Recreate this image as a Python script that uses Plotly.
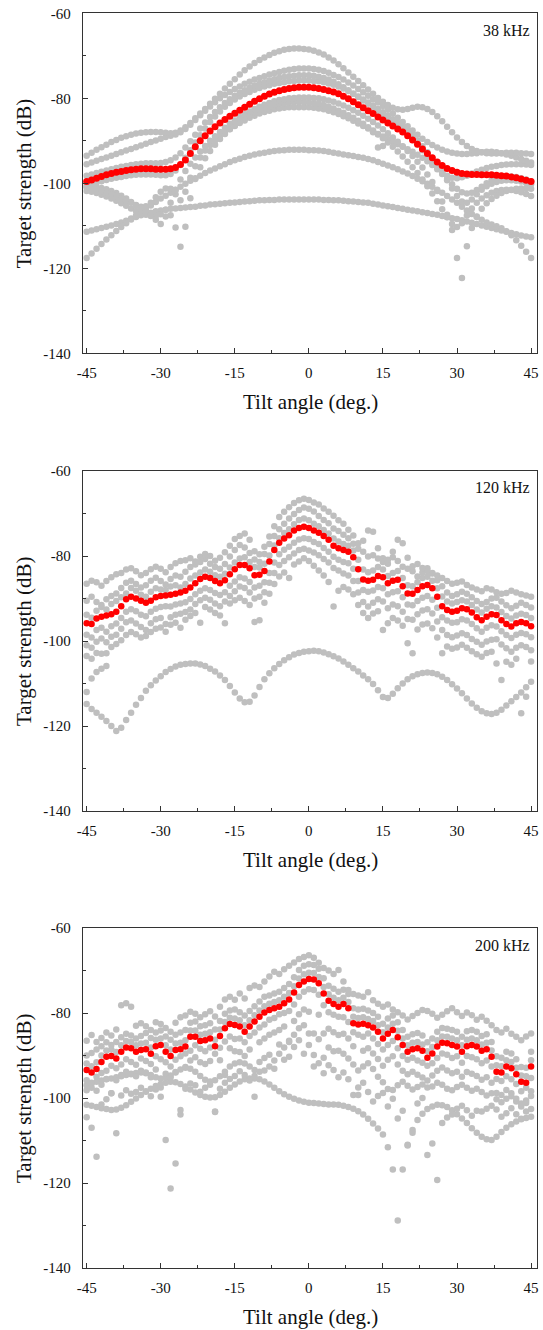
import plotly.graph_objects as go

# ---------------- data ----------------
ANGLES = list(range(-45, 46))  # tilt angle (deg.), 1-degree steps
XTICKS = [-45, -30, -15, 0, 15, 30, 45]
XTICKTEXT = ["-45", "-30", "-15", "0", "15", "30", "45"]
YTICKS = [-140, -120, -100, -80, -60]
YTICKTEXT = ["-140", "-120", "-100", "-80", "-60"]
PANEL_LABELS = ["38 kHz", "120 kHz", "200 kHz"]

# ---- 38 kHz : red = mean curve, gray = individual curves ----
red_38 = [-99.6, -99.2, -98.8, -98.4, -98.0, -97.7, -97.4, -97.2, -97.0, -96.8,
          -96.7, -96.6, -96.6, -96.6, -96.7, -96.7, -96.7, -96.6, -96.3, -95.6,
          -94.5, -93.0, -91.4, -90.0, -88.8, -87.7, -86.7, -85.8, -85.0, -84.2,
          -83.5, -82.8, -82.1, -81.4, -80.7, -80.1, -79.5, -79.0, -78.6, -78.2,
          -77.9, -77.7, -77.5, -77.4, -77.4, -77.4, -77.5, -77.7, -77.9, -78.2,
          -78.5, -78.9, -79.5, -80.1, -80.8, -81.5, -82.2, -82.9, -83.6, -84.4,
          -85.1, -85.8, -86.5, -87.2, -87.9, -88.8, -89.8, -90.8, -91.9, -93.0,
          -94.0, -95.0, -95.8, -96.5, -97.0, -97.4, -97.7, -97.8, -97.9, -97.9,
          -98.0, -98.0, -98.0, -98.1, -98.2, -98.3, -98.5, -98.7, -99.0, -99.3,
          -99.6]
g38_a = [-93.5, -92.8, -92.1, -91.5, -90.9, -90.3, -89.8, -89.3, -88.9, -88.6,
         -88.3, -88.1, -88.0, -87.9, -87.9, -88.0, -88.1, -88.2, -88.1, -87.6,
         -86.8, -85.8, -84.7, -83.6, -82.5, -81.3, -80.1, -78.9, -77.7, -76.6,
         -75.5, -74.4, -73.4, -72.5, -71.7, -71.0, -70.4, -69.8, -69.3, -68.9,
         -68.6, -68.4, -68.3, -68.3, -68.4, -68.5, -68.8, -69.2, -69.7, -70.4,
         -71.1, -72.0, -72.9, -73.9, -74.9, -75.9, -76.9, -77.9, -78.9, -79.9,
         -80.8, -81.6, -82.2, -82.6, -82.7, -82.5, -82.2, -82.0, -82.1, -82.5,
         -83.2, -84.2, -85.4, -86.7, -88.0, -89.2, -90.3, -91.2, -91.9, -92.4,
         -92.7, -92.9, -93.0, -93.0, -92.9, -92.8, -92.8, -92.8, -92.9, -93.0,
         -93.1]
g38_b = [-95.5, -95.1, -94.7, -94.3, -93.9, -93.5, -93.1, -92.7, -92.3, -91.9,
         -91.5, -91.1, -90.7, -90.3, -89.9, -89.5, -89.1, -88.8, -88.5, -88.0,
         -87.2, -86.2, -85.1, -84.0, -82.9, -81.9, -80.9, -80.0, -79.2, -78.5,
         -77.8, -77.2, -76.6, -76.1, -75.6, -75.2, -74.8, -74.4, -74.1, -73.8,
         -73.5, -73.3, -73.1, -73.0, -73.0, -73.0, -73.1, -73.3, -73.6, -74.0,
         -74.5, -75.0, -75.6, -76.3, -77.0, -77.8, -78.6, -79.4, -80.2, -81.0,
         -81.8, -82.7, -83.6, -84.6, -85.6, -86.6, -87.6, -88.6, -89.5, -90.3,
         -91.0, -91.6, -92.1, -92.5, -92.8, -93.0, -93.1, -93.1, -93.0, -92.9,
         -92.7, -92.6, -92.6, -92.7, -92.9, -93.2, -93.5, -93.9, -94.3, -94.7,
         -95.1]
g38_c = [-98.2, -97.9, -97.6, -97.3, -97.0, -96.7, -96.4, -96.1, -95.9, -95.7,
         -95.5, -95.4, -95.3, -95.3, -95.3, -95.2, -95.0, -94.6, -93.9, -92.9,
         -91.6, -90.1, -88.6, -87.1, -85.7, -84.4, -83.2, -82.1, -81.1, -80.2,
         -79.4, -78.7, -78.1, -77.5, -77.0, -76.6, -76.2, -75.8, -75.5, -75.2,
         -75.0, -74.8, -74.7, -74.6, -74.6, -74.6, -74.7, -74.9, -75.2, -75.6,
         -76.1, -76.7, -77.4, -78.1, -78.9, -79.7, -80.5, -81.3, -82.1, -82.9,
         -83.7, -84.5, -85.3, -86.2, -87.2, -88.3, -89.5, -90.8, -92.2, -93.6,
         -95.0, -96.3, -97.4, -98.2, -98.7, -98.8, -98.6, -98.2, -97.7, -97.2,
         -96.8, -96.4, -96.1, -95.9, -95.7, -95.6, -95.5, -95.5, -95.5, -95.6,
         -95.7]
g38_d = [-100.4, -100.1, -99.8, -99.5, -99.2, -98.9, -98.7, -98.5, -98.3, -98.1,
         -98.0, -97.9, -97.9, -97.9, -98.0, -98.1, -98.1, -97.8, -97.0, -95.7,
         -94.0, -92.2, -90.4, -88.7, -87.1, -85.6, -84.3, -83.1, -82.0, -81.1,
         -80.3, -79.6, -79.0, -78.5, -78.0, -77.6, -77.2, -76.9, -76.6, -76.4,
         -76.2, -76.0, -75.9, -75.8, -75.8, -75.8, -75.9, -76.0, -76.2, -76.5,
         -76.8, -77.2, -77.7, -78.3, -78.9, -79.6, -80.3, -81.0, -81.7, -82.5,
         -83.3, -84.1, -84.9, -85.8, -86.7, -87.7, -88.8, -90.0, -91.3, -92.7,
         -94.2, -95.8, -97.5, -99.3, -101.2, -103.0, -104.3, -104.6, -103.8, -102.6,
         -101.5, -100.7, -100.1, -99.7, -99.4, -99.3, -99.3, -99.4, -99.6, -99.9,
         -100.2]
g38_e = [-101.0, -101.2, -101.5, -101.8, -102.2, -102.6, -103.0, -103.5, -104.0, -104.6,
         -105.2, -105.9, -106.7, -107.6, -108.6, -109.6, -107.8, -104.6, -101.6, -99.1,
         -97.1, -95.4, -93.9, -92.5, -91.2, -90.0, -88.9, -87.9, -86.9, -86.0,
         -85.2, -84.4, -83.7, -83.1, -82.5, -82.0, -81.5, -81.1, -80.7, -80.4,
         -80.2, -80.0, -79.9, -79.8, -79.8, -79.8, -79.9, -80.0, -80.2, -80.5,
         -80.8, -81.2, -81.7, -82.2, -82.8, -83.4, -84.1, -84.8, -85.6, -86.4,
         -87.3, -88.2, -89.2, -90.2, -91.3, -92.4, -93.6, -94.9, -96.3, -97.9,
         -99.7, -101.8, -104.3, -107.4, -111.0, -117.6, -122.3, -114.8, -110.5, -107.8,
         -106.0, -104.7, -103.7, -102.9, -102.3, -101.8, -101.5, -101.3, -101.2, -101.2,
         -101.3]
g38_f = [-101.8, -102.0, -102.3, -102.7, -103.1, -103.6, -104.1, -104.7, -105.3, -105.9,
         -106.5, -107.0, -107.4, -107.7, -107.7, -107.3, -106.2, -107.5, -110.4, -114.9,
         -110.2, -103.5, -99.0, -96.2, -94.1, -92.4, -90.9, -89.6, -88.4, -87.3,
         -86.3, -85.4, -84.6, -83.9, -83.3, -82.7, -82.2, -81.8, -81.5, -81.3,
         -81.1, -81.0, -80.9, -80.9, -80.9, -81.0, -81.1, -81.3, -81.6, -82.0,
         -82.4, -82.9, -83.4, -84.0, -84.6, -85.3, -86.0, -86.8, -87.6, -88.5,
         -89.4, -90.4, -91.4, -92.5, -93.7, -94.9, -96.2, -97.6, -99.1, -100.7,
         -102.4, -104.2, -106.1, -108.0, -109.6, -110.3, -109.4, -107.6, -105.9, -104.6,
         -103.6, -102.8, -102.2, -101.8, -101.6, -101.5, -101.6, -101.8, -102.1, -102.5,
         -103.0]
g38_g = [-100.8, -100.8, -100.9, -101.1, -101.4, -101.8, -102.3, -102.9, -103.6, -104.4,
         -105.1, -105.5, -105.4, -104.6, -103.3, -102.0, -101.2, -101.3, -102.6, -104.0,
         -102.0, -98.7, -96.0, -93.9, -92.3, -91.0, -89.9, -88.9, -88.0, -87.2,
         -86.5, -85.8, -85.2, -84.6, -84.1, -83.6, -83.2, -82.9, -82.6, -82.4,
         -82.2, -82.1, -82.1, -82.1, -82.1, -82.1, -82.2, -82.4, -82.6, -82.9,
         -83.3, -83.7, -84.2, -84.7, -85.3, -85.9, -86.5, -87.1, -87.8, -88.4,
         -89.0, -89.6, -90.2, -90.8, -91.4, -92.0, -92.6, -93.3, -94.0, -94.8,
         -95.7, -96.7, -97.8, -99.0, -100.2, -101.3, -102.1, -102.4, -102.2, -101.6,
         -100.8, -100.0, -99.3, -98.8, -98.5, -98.4, -98.4, -98.5, -98.8, -99.1,
         -99.5]
g38_h = [-117.6, -116.5, -115.4, -114.3, -113.2, -112.2, -111.2, -110.3, -109.4, -108.5,
         -107.6, -106.8, -106.0, -105.2, -104.4, -103.6, -102.9, -102.2, -101.5, -100.8,
         -100.1, -99.4, -98.8, -98.2, -97.6, -97.0, -96.5, -96.0, -95.5, -95.0,
         -94.6, -94.2, -93.8, -93.5, -93.2, -93.0, -92.8, -92.6, -92.4, -92.3,
         -92.2, -92.1, -92.1, -92.1, -92.1, -92.2, -92.2, -92.3, -92.4, -92.6,
         -92.8, -93.0, -93.2, -93.4, -93.6, -93.8, -94.0, -94.3, -94.6, -95.0,
         -95.4, -95.8, -96.2, -96.7, -97.2, -97.7, -98.3, -98.9, -99.5, -100.1,
         -100.8, -101.5, -102.2, -103.0, -103.8, -104.6, -105.5, -106.4, -107.2, -107.9,
         -108.6, -109.2, -109.7, -110.1, -110.6, -111.3, -112.2, -113.4, -114.7, -116.1,
         -117.6]
g38_i = [-111.4, -111.1, -110.8, -110.5, -110.2, -109.9, -109.6, -109.2, -108.8, -108.3,
         -107.9, -107.5, -107.2, -106.9, -106.6, -106.4, -106.2, -106.0, -105.9, -105.8,
         -105.7, -105.6, -105.5, -105.3, -105.2, -105.0, -104.9, -104.8, -104.7, -104.6,
         -104.5, -104.4, -104.3, -104.2, -104.1, -104.0, -104.0, -103.9, -103.9, -103.8,
         -103.8, -103.8, -103.8, -103.8, -103.8, -103.8, -103.8, -103.8, -103.9, -103.9,
         -104.0, -104.0, -104.1, -104.2, -104.3, -104.4, -104.5, -104.6, -104.8, -105.0,
         -105.2, -105.4, -105.6, -105.8, -106.0, -106.2, -106.4, -106.6, -106.8, -107.0,
         -107.2, -107.4, -107.7, -107.9, -108.2, -108.4, -108.7, -109.0, -109.3, -109.6,
         -109.9, -110.2, -110.5, -110.8, -111.1, -111.4, -111.7, -112.0, -112.3, -112.5,
         -112.7]
extra38_x = [13, 14, 15]
extra38_y = [-88.0, -91.6, -91.2]

# ---- 120 kHz ----
red_120 = [-95.8, -96.0, -94.7, -94.3, -94.0, -93.7, -93.1, -91.8, -90.2, -89.6,
           -90.0, -90.5, -91.0, -90.5, -89.7, -89.4, -89.3, -89.1, -88.9, -88.6,
           -88.2, -87.4, -86.4, -85.4, -84.9, -85.2, -85.9, -86.4, -85.7, -84.3,
           -83.1, -82.1, -82.1, -82.9, -84.5, -84.4, -83.5, -81.3, -78.6, -76.9,
           -75.9, -75.1, -74.0, -73.4, -73.1, -73.4, -74.0, -74.5, -75.3, -76.2,
           -77.6, -78.2, -78.6, -79.0, -80.3, -83.1, -85.5, -85.8, -85.6, -84.7,
           -85.0, -86.4, -85.8, -85.6, -87.1, -88.8, -88.9, -88.0, -87.1, -86.8,
           -87.6, -89.6, -91.8, -92.7, -93.1, -92.9, -92.3, -92.5, -93.3, -94.4,
           -95.1, -94.3, -93.7, -93.9, -95.1, -96.0, -96.6, -95.8, -95.5, -95.8,
           -96.5]
g120_a = [-86.5, -85.8, -86.2, -87.0, -85.9, -85.0, -84.3, -84.0, -83.2, -82.9,
          -83.6, -84.5, -84.0, -83.1, -82.5, -83.0, -83.8, -82.6, -81.7, -81.2,
          -81.0, -80.5, -81.3, -80.2, -79.5, -80.0, -81.1, -80.4, -79.1, -77.6,
          -76.0, -75.3, -74.7, -76.2, -78.9, -79.6, -77.8, -75.4, -73.0, -70.8,
          -69.6, -68.5, -67.5, -66.9, -66.5, -66.8, -67.4, -67.9, -68.8, -69.6,
          -70.5, -71.6, -72.4, -73.8, -75.2, -77.0, -79.0, -80.1, -79.8, -80.6,
          -81.4, -80.9, -80.3, -81.2, -82.5, -83.0, -82.4, -81.9, -82.8, -83.5,
          -84.1, -84.6, -85.2, -85.9, -86.5, -86.3, -86.0, -86.8, -87.4, -87.9,
          -88.3, -87.6, -87.9, -88.5, -88.9, -88.7, -88.2, -88.6, -89.0, -89.3,
          -89.6]
g120_b = [-90.5, -89.6, -90.8, -91.5, -90.2, -89.4, -88.8, -87.5, -86.3, -85.8,
          -86.6, -87.4, -86.9, -85.8, -85.1, -85.9, -86.7, -85.4, -84.6, -84.9,
          -83.7, -82.6, -82.0, -81.4, -80.7, -81.8, -82.6, -83.0, -81.9, -80.1,
          -78.6, -77.4, -78.0, -79.3, -80.8, -81.4, -79.5, -77.2, -75.3, -73.7,
          -72.4, -71.2, -70.1, -69.2, -68.6, -68.9, -69.5, -70.6, -71.5, -72.3,
          -73.5, -74.1, -75.0, -75.8, -77.1, -78.3, -76.4, -74.0, -74.3, -78.2,
          -80.5, -81.8, -79.0, -76.2, -77.0, -80.4, -83.6, -84.8, -83.9, -82.9,
          -84.0, -85.7, -87.1, -88.6, -89.4, -89.0, -88.4, -88.9, -89.7, -90.6,
          -91.3, -90.8, -90.0, -89.8, -90.7, -91.6, -92.3, -91.7, -91.0, -91.5,
          -92.1]
g120_c = [-93.8, -94.5, -92.9, -92.0, -92.6, -91.3, -90.6, -89.7, -88.8, -87.5,
          -88.2, -89.1, -89.6, -88.4, -87.6, -87.9, -88.0, -87.2, -86.9, -87.4,
          -86.6, -85.3, -84.6, -83.9, -83.2, -83.7, -84.5, -84.9, -84.2, -82.7,
          -81.5, -80.6, -80.3, -81.4, -82.6, -82.7, -81.8, -79.9, -77.5, -75.8,
          -74.6, -73.7, -72.5, -71.5, -71.2, -71.6, -72.4, -73.0, -73.9, -74.7,
          -75.9, -76.6, -77.2, -77.6, -78.7, -80.9, -83.2, -83.8, -83.4, -82.6,
          -83.2, -84.7, -84.0, -83.5, -85.2, -86.9, -87.1, -86.2, -85.2, -84.9,
          -85.8, -87.6, -89.5, -90.7, -91.2, -90.8, -90.4, -90.7, -91.5, -92.6,
          -93.3, -92.4, -91.8, -92.1, -93.2, -94.1, -94.7, -94.0, -93.6, -93.9,
          -94.6]
g120_d = [-98.5, -99.2, -97.4, -96.9, -97.8, -96.5, -95.9, -94.6, -93.1, -92.5,
          -93.0, -93.8, -94.2, -93.1, -92.4, -92.0, -91.8, -91.9, -91.4, -91.2,
          -90.9, -90.1, -89.0, -88.2, -87.6, -88.0, -88.7, -89.2, -88.5, -87.0,
          -86.0, -85.0, -85.3, -86.1, -87.4, -87.0, -86.2, -84.0, -81.5, -79.6,
          -78.5, -77.8, -76.9, -76.1, -75.8, -76.0, -76.7, -77.2, -78.1, -79.0,
          -80.2, -80.9, -81.4, -81.7, -83.0, -85.9, -88.0, -88.4, -88.1, -87.3,
          -87.6, -89.0, -88.5, -88.3, -89.7, -91.4, -91.6, -90.6, -89.8, -89.4,
          -90.3, -92.2, -94.4, -95.2, -95.7, -95.6, -94.9, -95.2, -96.0, -97.0,
          -97.8, -96.9, -96.3, -96.6, -97.7, -98.6, -99.3, -98.5, -98.1, -98.4,
          -99.1]
g120_e = [-101.0, -101.6, -100.2, -99.4, -100.3, -99.0, -98.5, -97.1, -95.6, -95.2,
          -95.9, -96.7, -97.4, -95.8, -94.9, -94.6, -96.0, -94.4, -93.8, -93.6,
          -93.2, -92.6, -91.3, -90.4, -89.8, -90.3, -91.2, -91.8, -90.7, -89.4,
          -88.3, -87.2, -87.5, -88.6, -90.0, -89.6, -88.5, -86.3, -84.0, -82.1,
          -81.2, -80.3, -79.4, -78.6, -78.3, -78.7, -79.2, -79.8, -80.7, -81.5,
          -82.8, -83.4, -84.1, -84.6, -85.9, -88.6, -90.8, -91.9, -91.0, -90.2,
          -90.7, -92.3, -91.4, -91.8, -93.1, -94.8, -95.0, -93.7, -92.8, -92.5,
          -93.5, -95.4, -97.4, -98.6, -99.1, -98.7, -98.2, -98.6, -99.5, -100.2,
          -100.9, -100.1, -99.7, -99.6, -100.8, -101.7, -102.5, -101.6, -101.0, -101.4,
          -102.2]
g120_f = [-103.5, -104.2, -102.8, -103.0, -102.9, -101.4, -100.7, -99.8, -98.6, -97.9,
          -98.4, -99.2, -98.8, -97.9, -97.1, -96.8, -97.8, -96.2, -95.7, -96.9,
          -95.0, -94.1, -93.4, -95.7, -92.0, -92.6, -93.4, -94.0, -95.8, -91.2,
          -90.4, -89.8, -90.6, -91.5, -95.5, -95.1, -91.0, -88.9, -86.6, -84.8,
          -83.9, -85.2, -82.0, -81.3, -80.5, -81.2, -82.3, -83.4, -84.6, -86.1,
          -91.9, -88.2, -87.3, -87.9, -89.0, -91.5, -93.4, -94.6, -93.5, -93.0,
          -97.4, -95.8, -94.6, -95.2, -96.4, -100.5, -102.9, -97.3, -96.1, -95.9,
          -97.0, -99.2, -102.9, -101.3, -101.8, -101.5, -100.9, -101.6, -102.4, -103.1,
          -103.7, -102.8, -102.5, -105.3, -109.2, -104.9, -105.6, -104.2, -117.0, -113.1,
          -104.8]
g120_low = [-114.8, -116.0, -116.9, -117.8, -118.8, -120.0, -121.2, -120.4, -118.6, -116.9,
            -115.0, -113.4, -111.7, -110.4, -109.3, -108.3, -107.3, -106.6, -106.0, -105.6,
            -105.4, -105.3, -105.3, -105.5, -105.9, -106.5, -107.2, -108.1, -109.2, -110.6,
            -112.1, -113.5, -114.4, -114.3, -112.8, -110.8, -109.0, -107.6, -106.4, -105.4,
            -104.5, -103.8, -103.2, -102.8, -102.5, -102.4, -102.3, -102.4, -102.7, -103.1,
            -103.6, -104.1, -104.8, -105.6, -106.4, -107.2, -108.1, -109.0, -110.1, -111.6,
            -113.2, -113.4, -112.4, -111.1, -110.0, -109.0, -108.3, -107.8, -107.5, -107.4,
            -107.5, -107.8, -108.4, -109.2, -110.2, -111.2, -112.3, -113.5, -114.7, -115.7,
            -116.5, -117.0, -117.2, -116.9, -116.2, -115.2, -114.2, -113.2, -112.1, -110.9,
            -109.6]
arc120_x = [-45, -44, -43, -42, -41]
arc120_y = [-112.0, -108.8, -107.3, -106.5, -105.9]

# ---- 200 kHz ----
red_200 = [-93.4, -94.0, -93.2, -91.5, -90.3, -90.1, -90.7, -89.1, -88.1, -88.3,
           -89.1, -88.7, -88.5, -89.6, -87.8, -87.5, -89.1, -90.1, -88.7, -88.5,
           -87.9, -85.6, -85.6, -86.6, -86.4, -86.0, -87.8, -85.4, -83.6, -82.6,
           -82.8, -83.2, -84.4, -83.2, -82.0, -80.9, -79.9, -79.3, -78.9, -78.5,
           -77.7, -76.8, -75.2, -73.4, -72.6, -72.0, -72.1, -73.0, -75.4, -77.1,
           -77.9, -78.5, -77.9, -78.9, -82.4, -82.7, -82.5, -82.9, -83.4, -84.4,
           -86.0, -84.9, -84.0, -85.7, -87.5, -89.1, -88.5, -88.3, -88.9, -90.5,
           -89.5, -87.9, -87.0, -87.1, -87.5, -87.9, -89.1, -87.8, -87.5, -87.9,
           -88.9, -88.5, -90.3, -93.8, -94.0, -92.6, -93.0, -94.4, -96.2, -96.4,
           -92.6]
g200_a = [-86.5, -85.2, -86.8, -85.9, -84.6, -85.3, -83.9, -78.2, -77.7, -78.5,
          -83.0, -82.4, -83.1, -84.0, -82.2, -82.6, -83.5, -84.4, -82.3, -81.0,
          -80.6, -79.7, -80.2, -81.0, -80.3, -79.6, -80.8, -78.5, -76.8, -76.2,
          -76.9, -75.4, -76.6, -74.1, -73.5, -73.9, -72.6, -71.4, -70.3, -70.8,
          -69.7, -68.9, -68.1, -67.3, -66.8, -66.4, -67.0, -68.2, -69.4, -70.0,
          -70.8, -69.9, -72.6, -74.6, -75.5, -75.9, -76.2, -75.1, -77.0, -77.8,
          -78.5, -78.0, -79.2, -79.8, -80.6, -81.5, -80.7, -80.0, -79.3, -79.5,
          -80.2, -81.1, -80.4, -79.6, -78.9, -79.8, -80.7, -79.9, -80.5, -81.6,
          -80.9, -81.8, -82.9, -84.0, -84.6, -83.7, -84.9, -85.6, -86.4, -85.5,
          -84.8]
g200_b = [-90.0, -89.4, -88.6, -87.8, -86.9, -87.5, -86.8, -85.7, -84.9, -85.3,
          -86.0, -85.4, -84.7, -85.9, -84.6, -84.1, -85.5, -86.3, -85.1, -84.6,
          -84.0, -82.3, -82.0, -83.1, -82.9, -82.4, -83.9, -81.9, -80.2, -79.4,
          -79.2, -79.8, -80.6, -79.5, -78.4, -77.3, -76.2, -75.9, -75.4, -75.0,
          -74.1, -73.2, -71.6, -69.9, -68.9, -68.5, -68.7, -69.6, -71.8, -73.6,
          -74.3, -75.0, -74.5, -75.5, -78.9, -79.2, -79.0, -79.4, -80.0, -80.9,
          -82.5, -81.3, -80.6, -82.2, -84.0, -85.6, -85.0, -84.7, -85.3, -86.9,
          -86.0, -84.4, -83.5, -83.7, -84.0, -84.4, -85.6, -84.3, -84.0, -84.4,
          -85.4, -85.0, -86.8, -90.2, -90.5, -89.1, -89.5, -90.9, -92.7, -92.9,
          -89.1]
g200_c = [-91.9, -92.5, -91.6, -90.0, -88.8, -88.6, -89.2, -87.6, -86.6, -86.8,
          -87.6, -87.2, -87.0, -88.1, -86.3, -86.0, -87.6, -88.6, -87.2, -87.0,
          -86.4, -84.1, -84.1, -85.1, -84.9, -84.5, -86.3, -83.9, -82.1, -81.1,
          -81.3, -81.7, -82.9, -81.7, -80.5, -79.4, -78.4, -77.8, -77.4, -77.0,
          -76.2, -75.3, -73.7, -71.9, -70.9, -70.5, -70.6, -71.5, -73.9, -75.6,
          -76.4, -77.0, -76.4, -77.4, -80.9, -81.2, -81.0, -81.4, -81.9, -82.9,
          -84.5, -83.4, -82.5, -84.2, -86.0, -87.6, -87.0, -86.8, -87.4, -89.0,
          -88.0, -86.4, -85.5, -85.6, -86.0, -86.4, -87.6, -86.3, -86.0, -86.4,
          -87.4, -87.0, -88.8, -92.3, -92.5, -91.1, -91.5, -92.9, -94.7, -94.9,
          -91.1]
g200_d = [-95.8, -96.4, -95.0, -94.1, -93.6, -92.4, -93.0, -92.1, -90.9, -91.5,
          -92.2, -90.7, -91.3, -92.0, -90.2, -90.9, -91.6, -92.6, -91.0, -90.2,
          -89.5, -88.9, -87.6, -88.4, -89.0, -88.1, -89.6, -88.2, -86.7, -85.5,
          -86.1, -86.0, -86.9, -85.4, -84.6, -83.4, -82.7, -81.6, -81.2, -80.3,
          -80.0, -79.5, -78.0, -76.2, -75.0, -74.4, -74.6, -75.7, -78.2, -79.8,
          -80.4, -80.9, -81.0, -82.1, -84.5, -85.1, -85.6, -84.8, -86.0, -87.3,
          -88.6, -87.5, -86.6, -88.3, -90.1, -91.0, -90.5, -91.2, -91.7, -92.4,
          -91.8, -90.6, -89.5, -89.8, -90.6, -90.2, -91.7, -90.1, -90.4, -90.9,
          -91.8, -91.2, -92.6, -95.5, -96.0, -94.9, -95.6, -96.7, -98.4, -97.6,
          -95.3]
g200_e = [-98.2, -97.6, -98.3, -96.9, -95.5, -98.9, -95.8, -94.6, -93.8, -94.4,
          -94.9, -93.6, -94.0, -95.1, -93.3, -99.7, -94.3, -95.2, -93.9, -102.8,
          -92.7, -91.2, -90.4, -91.6, -92.0, -91.3, -103.2, -91.1, -94.6, -88.3,
          -89.0, -89.2, -90.1, -88.6, -99.7, -86.9, -86.0, -85.1, -84.6, -84.0,
          -83.2, -90.3, -81.9, -80.3, -79.2, -79.7, -84.8, -80.4, -84.8, -83.7,
          -84.5, -85.2, -84.9, -86.0, -87.8, -99.3, -88.9, -88.3, -89.5, -90.8,
          -92.4, -91.0, -90.2, -92.1, -93.6, -94.4, -93.8, -94.5, -95.2, -95.9,
          -94.7, -93.6, -92.8, -93.5, -94.2, -93.8, -95.0, -93.9, -94.3, -94.8,
          -95.7, -95.1, -96.4, -98.8, -99.3, -98.1, -98.9, -100.2, -101.3, -100.6,
          -98.4]
g200_f = [-97.0, -96.6, -96.2, -95.9, -95.6, -95.4, -95.1, -94.9, -94.6, -94.3,
          -94.1, -94.0, -94.2, -94.6, -95.1, -95.4, -95.2, -94.7, -94.0, -93.3,
          -92.9, -93.1, -93.8, -94.8, -95.7, -96.1, -95.8, -94.9, -93.8, -92.6,
          -91.9, -91.6, -91.9, -92.6, -93.4, -93.8, -93.5, -92.6, -91.2, -89.6,
          -88.1, -86.8, -85.1, -83.6, -82.9, -84.8, -92.6, -86.2, -94.2, -88.1,
          -89.0, -88.9, -89.6, -90.7, -92.1, -93.5, -92.6, -91.8, -93.2, -95.0,
          -96.3, -97.9, -98.1, -97.0, -96.2, -97.1, -98.0, -97.4, -96.8, -97.5,
          -97.3, -96.4, -96.9, -97.8, -98.2, -97.4, -96.9, -97.6, -98.3, -97.8,
          -98.6, -99.4, -98.9, -100.3, -101.0, -100.2, -99.6, -100.8, -102.0, -101.2,
          -99.5]
g200_g = [-104.5, -107.0, -113.8, -101.5, -100.3, -98.9, -108.3, -99.4, -98.2, -99.0,
          -98.6, -97.6, -98.4, -99.6, -98.0, -97.5, -109.9, -121.3, -115.4, -103.9,
          -97.8, -96.6, -97.0, -98.5, -97.6, -96.9, -103.3, -97.8, -96.4, -95.5,
          -94.8, -93.7, -94.6, -95.9, -94.8, -91.5, -90.6, -89.8, -93.1, -87.4,
          -91.0, -86.5, -88.0, -86.4, -89.6, -87.5, -89.9, -91.8, -90.5, -92.3,
          -93.4, -95.1, -94.0, -95.6, -99.3, -97.5, -96.4, -98.6, -100.8, -99.5,
          -98.8, -102.0, -100.2, -104.8, -103.0, -111.0, -108.2, -101.3, -100.0, -113.4,
          -110.7, -119.3, -105.9, -104.6, -103.9, -102.5, -101.8, -102.9, -104.2, -103.0,
          -103.2, -102.5, -101.8, -102.7, -104.4, -103.6, -102.4, -103.8, -104.9, -103.2,
          -102.6]
g200_low = [-101.6, -101.8, -102.1, -102.4, -102.6, -102.8, -102.7, -102.3, -101.7, -100.9,
            -100.1, -99.3, -98.5, -97.8, -97.2, -96.7, -96.4, -96.2, -96.3, -96.7,
            -97.3, -98.0, -98.7, -99.3, -99.7, -99.9, -99.8, -99.3, -98.5, -97.6,
            -96.8, -96.1, -95.6, -95.4, -95.4, -95.6, -96.1, -96.8, -97.6, -98.4,
            -99.1, -99.7, -100.2, -100.6, -100.9, -101.1, -101.2, -101.3, -101.4, -101.5,
            -101.5, -101.6, -101.8, -102.1, -102.5, -103.1, -103.9, -104.9, -106.0, -107.2,
            -108.6, -111.6, -116.8, -128.8, -116.8, -111.2, -107.5, -105.2, -103.7, -102.6,
            -102.0, -101.6, -101.7, -102.1, -102.9, -103.8, -104.8, -105.9, -107.1, -108.2,
            -109.1, -109.7, -109.9, -109.1, -108.0, -107.0, -106.2, -105.5, -105.0, -104.7,
            -104.4]

# ---------------- figure ----------------
W, H = 543, 1330
GRAY = "#bfbfbf"
RED = "#ff0000"
FONT = "Liberation Serif, 'Times New Roman', Times, 'DejaVu Serif', serif"
X_LEFT, X_RIGHT = 82.7, 537.0                       # plot frame in px
PANELS_PX = [(13.3, 353.3), (471.0, 811.0), (928.0, 1268.0)]  # (top, bottom) px

fig = go.Figure()


def add_pts(xs, ys, panel, color, size):
    sfx = "" if panel == 1 else str(panel)
    fig.add_trace(go.Scatter(
        x=xs, y=ys, mode="markers", xaxis="x" + sfx, yaxis="y" + sfx,
        marker=dict(color=color, size=size, line=dict(width=0)),
        hoverinfo="skip", showlegend=False))


for s in [g38_i, g38_h, g38_g, g38_f, g38_e, g38_d, g38_c, g38_b, g38_a]:
    add_pts(ANGLES, s, 1, GRAY, 6.5)
add_pts(extra38_x, extra38_y, 1, GRAY, 6.5)
add_pts(ANGLES, red_38, 1, RED, 7)

for s in [g120_low, g120_f, g120_e, g120_d, g120_c, g120_b, g120_a]:
    add_pts(ANGLES, s, 2, GRAY, 6.5)
add_pts(arc120_x, arc120_y, 2, GRAY, 6.5)
add_pts(ANGLES, red_120, 2, RED, 6.5)

for s in [g200_low, g200_g, g200_f, g200_e, g200_d, g200_c, g200_b, g200_a]:
    add_pts(ANGLES, s, 3, GRAY, 6.5)
add_pts(ANGLES, red_200, 3, RED, 6.5)

tickfont = dict(family=FONT, size=15, color="#111")
layout = dict(width=W, height=H, margin=dict(l=0, r=0, t=0, b=0, autoexpand=False),
              paper_bgcolor="white", plot_bgcolor="white", showlegend=False,
              font=dict(family=FONT, color="#111"))
annotations = []
for i, (top, bot) in enumerate(PANELS_PX):
    sfx = "" if i == 0 else str(i + 1)
    dom_y = [1 - bot / H, 1 - top / H]
    layout["xaxis" + sfx] = dict(
        domain=[X_LEFT / W, X_RIGHT / W], range=[-45.8, 46.2], anchor="y" + sfx,
        automargin=False,
        tickmode="array", tickvals=XTICKS, ticktext=XTICKTEXT,
        ticks="inside", ticklen=5, tickwidth=1, tickcolor="#333",
        minor=dict(tickmode="array", tickvals=[-37.5, -22.5, -7.5, 7.5, 22.5, 37.5],
                   ticks="inside", ticklen=3, tickwidth=1, tickcolor="#333"),
        showline=True, linecolor="#333", linewidth=1, mirror=True,
        showgrid=False, zeroline=False, tickfont=tickfont, ticklabelstandoff=6)
    layout["yaxis" + sfx] = dict(
        domain=dom_y, range=[-140, -60], anchor="x" + sfx,
        automargin=False,
        tickmode="array", tickvals=YTICKS, ticktext=YTICKTEXT,
        ticks="inside", ticklen=5, tickwidth=1, tickcolor="#333",
        minor=dict(tickmode="array", tickvals=[-130, -110, -90, -70],
                   ticks="inside", ticklen=3, tickwidth=1, tickcolor="#333"),
        showline=True, linecolor="#333", linewidth=1, mirror=True,
        showgrid=False, zeroline=False, tickfont=tickfont, ticklabelstandoff=8)
    annotations.append(dict(text=PANEL_LABELS[i], x=531.5 / W, y=1 - (top + 17) / H,
                            xref="paper", yref="paper", xanchor="right", yanchor="middle",
                            showarrow=False, font=dict(family=FONT, size=16, color="#111")))
    annotations.append(dict(text="Tilt angle (deg.)", x=310 / W, y=1 - (bot + 49) / H,
                            xref="paper", yref="paper", xanchor="center", yanchor="middle",
                            showarrow=False, font=dict(family=FONT, size=21, color="#111")))
    annotations.append(dict(text="Target strength (dB)", x=24 / W, y=1 - (top + bot) / 2 / H,
                            xref="paper", yref="paper", xanchor="center", yanchor="middle",
                            textangle=-90, showarrow=False,
                            font=dict(family=FONT, size=21, color="#111")))
layout["annotations"] = annotations
fig.update_layout(**layout)
fig.write_html("out.html")
